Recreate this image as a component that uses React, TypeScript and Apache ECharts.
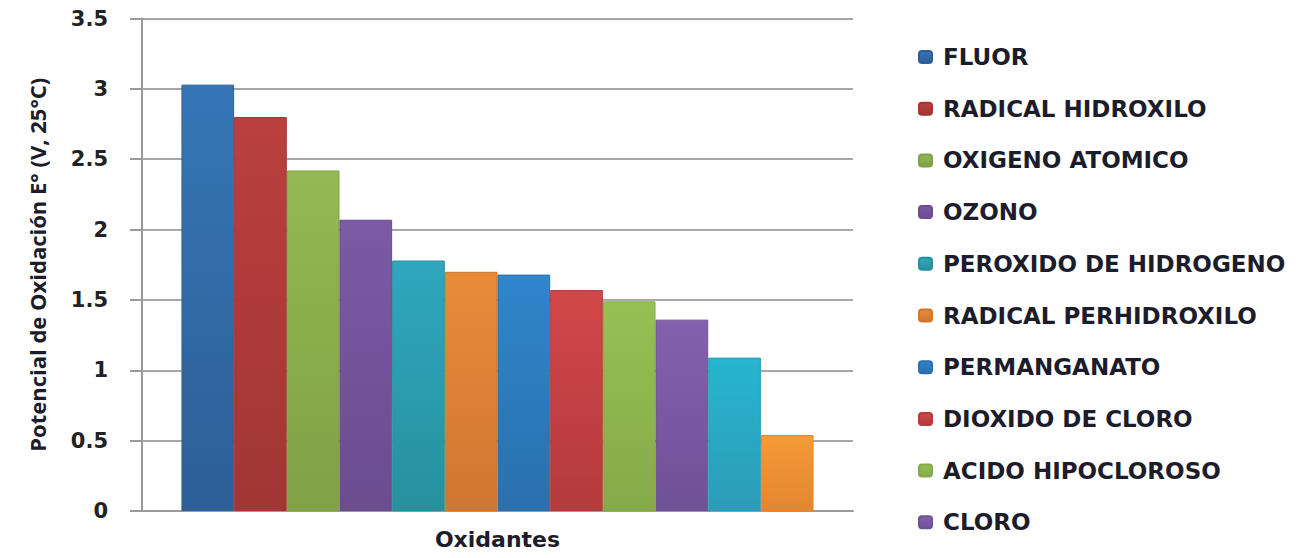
import React, { useEffect, useRef } from "react";
import * as echarts from "echarts";

const categories = ["Oxidantes"];
const seriesNames = [
  "FLUOR",
  "RADICAL HIDROXILO",
  "OXIGENO ATOMICO",
  "OZONO",
  "PEROXIDO DE HIDROGENO",
  "RADICAL PERHIDROXILO",
  "PERMANGANATO",
  "DIOXIDO DE CLORO",
  "ACIDO HIPOCLOROSO",
  "CLORO",
  "BROMO",
  "YODO",
];
const values = [3.03, 2.8, 2.42, 2.07, 1.78, 1.7, 1.68, 1.57, 1.49, 1.36, 1.09, 0.54];
const legendNames = seriesNames.slice(0, 10);
const colorsTop = ["#3676b6", "#b9403e", "#94b954", "#7b5aa6", "#2fa7bd", "#e98c3a", "#2f86cc", "#d2474a", "#95c154", "#8460ad", "#27b5cf", "#f59a38"];
const colorsBottom = ["#2d5f97", "#a23634", "#80a145", "#6a4c8f", "#27909f", "#cf7631", "#2a70ad", "#b43a3c", "#85aa4a", "#6f5197", "#2c9cb8", "#e3862f"];
const yTicks = { min: 0, max: 3.5, interval: 0.5 };

export default function App() {
  const ref = useRef<HTMLDivElement>(null);
  useEffect(() => {
    if (!ref.current) return;
    const chart = echarts.init(ref.current, null, { renderer: "svg" });
    chart.setOption({
      animation: false,
      backgroundColor: "#ffffff",
      grid: { left: 134, right: 449, top: 7, bottom: 27, containLabel: false },
      legend: {
        data: legendNames,
        orient: "vertical",
        left: 910,
        top: 37.5,
        height: 520,
        padding: 0,
        itemWidth: 13,
        itemHeight: 12,
        itemGap: 28.7,
        selectedMode: false,
        textStyle: {
          fontFamily: "DejaVu Sans",
          fontWeight: "bold",
          fontSize: 23,
          color: "#1c1c2a",
          padding: [0, 0, 0, 6],
        },
      },
      xAxis: {
        type: "category",
        data: categories,
        axisLine: { show: true, lineStyle: { color: "#9a9a9a", width: 2 } },
        axisTick: { show: false },
        axisLabel: {
          fontFamily: "DejaVu Sans",
          fontWeight: "bold",
          fontSize: 22,
          color: "#1c1c2a",
          margin: 17,
        },
      },
      yAxis: {
        type: "value",
        min: yTicks.min,
        max: yTicks.max,
        interval: yTicks.interval,
        name: "Potencial de Oxidación E° (V, 25°C)",
        nameLocation: "middle",
        nameGap: 94,
        nameRotate: 90,
        nameTextStyle: {
          fontFamily: "Open Sans",
          fontWeight: "bold",
          fontSize: 22,
          color: "#1c1c2a",
        },
        axisLine: { show: true, lineStyle: { color: "#9a9a9a", width: 2 } },
        axisTick: { show: true, length: 12, lineStyle: { color: "#9a9a9a", width: 2 } },
        splitLine: { show: true, lineStyle: { color: "#a8a8a8", width: 2 } },
        axisLabel: {
          fontFamily: "DejaVu Sans",
          fontWeight: "bold",
          fontSize: 21,
          color: "#222222",
          margin: 34,
        },
      },
      series: seriesNames.map((name, i) => ({
        name,
        type: "bar",
        data: [values[i]],
        barGap: "0%",
        barCategoryGap: "11.1%",
        itemStyle: {
          color: new echarts.graphic.LinearGradient(0, 0, 0, 1, [
            { offset: 0, color: colorsTop[i] },
            { offset: 1, color: colorsBottom[i] },
          ]),
          borderColor: colorsBottom[i],
          borderWidth: 1,
        },
      })),
    });
    return () => chart.dispose();
  }, []);
  return <div ref={ref} style={{ width: 1294, height: 542 }} />;
}
